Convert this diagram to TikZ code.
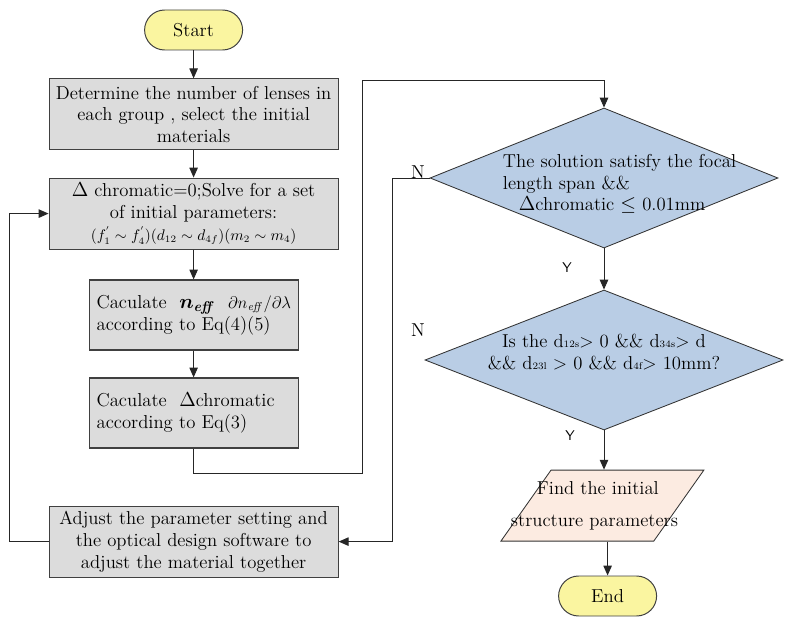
\documentclass[tikz,border=0pt]{standalone}
\usepackage{amsmath}
\usepackage{tikz}
\usetikzlibrary{arrows.meta,calc,positioning,shapes.geometric}
\definecolor{termfill}{HTML}{FAF5A0}
\definecolor{procfill}{HTML}{DCDCDC}
\definecolor{decfill}{HTML}{B9CDE5}
\definecolor{iofill}{HTML}{FCEBE1}
\definecolor{edgegray}{HTML}{404040}
\tikzset{%
	startstop/.style= {draw=edgegray, fill=termfill, rectangle, rounded corners=0.5cm, minimum width=2.45cm, minimum height=1cm, text centered, line width=0.7pt},
	process/.style  = {draw=edgegray, fill=procfill, rectangle, minimum width=7.225cm, minimum height=1.775cm, align=center, inner sep=0pt, line width=0.8pt},
	calcbox/.style  = {process, minimum width=5.225cm, minimum height=1.75cm, text width=4.85cm, align=left},
	decision/.style = {draw=black!80, fill=decfill, diamond, inner sep=0pt, line width=0.6pt},
	inout/.style    = {draw=black!80, fill=iofill, trapezium, trapezium left angle=64, trapezium right angle=116, trapezium stretches=true, inner sep=2pt, minimum width=5.075cm, minimum height=1.775cm, line width=0.6pt},
	arrow/.style    = {line width=0.7pt, draw=black!85, -{Triangle[length=7pt,width=6pt]}},
	yn/.style       = {inner sep=0pt},
}
\begin{document}
\begin{tikzpicture}[font=\fontsize{13.3}{15.5}\selectfont]
	\useasboundingbox (0,0) rectangle (19.8,-15.65);
	% left column
	\node[startstop] (start) at (4.84,-0.75) {Start};
	\node[process] (lenses) at (4.84,-2.86) {Determine the number of lenses in\\ each group , select the initial\\ materials};
	\node[process] (solve) at (4.84,-5.34) {$\Delta$ chromatic=0;Solve for a set\\ of initial parameters:\\ {\fontsize{10.5}{12}\selectfont $(f_1^{'}\sim f_4^{'})(d_{12}\sim d_{4f})(m_2\sim m_4)$}};
	\node[calcbox] (neff) at (4.84,-7.875) {\mbox{Caculate \ {\Large\boldmath$n_{\mathit{eff}}$} \ {\fontsize{11.5}{14}\selectfont$\partial n_{\mathit{eff}}/\partial\lambda$}}\\ according to Eq(4)(5)};
	\node[calcbox] (chrom) at (4.84,-10.325) {Caculate \ $\Delta$chromatic\\ according to Eq(3)};
	\node[process] (adjust) at (4.84,-13.54) {Adjust the parameter setting and\\ the optical design software to\\ adjust the material together};
	% right column
	\node[decision, minimum width=8.7cm, minimum height=3.5cm] (focal) at (15.1,-4.45) {};
	\node[align=left, anchor=west] (focaltxt) at (12.45,-4.6) {The solution satisfy the focal\\ length span \&\&\\ \hspace*{0.4cm}$\Delta$chromatic $\leq$ 0.01mm};
	\node[decision, minimum width=8.95cm, minimum height=3.5cm] (gaps) at (15.1,-9.0) {};
	\node[align=center] (gapstxt) at (15.1,-8.8) {Is the d{\scriptsize 12s}> 0 \&\& d{\scriptsize 34s}> d\\ \&\& d{\scriptsize 23l} > 0 \&\& d{\scriptsize 4f}> 10mm?};
	\node[inout] (find) at (15.06,-12.64) {};
	\node[align=left, anchor=west] (findtxt) at (12.65,-12.64) {\hspace*{0.65cm}Find the initial\\[7pt] structure parameters};
	\node[startstop] (end) at (15.19,-14.9) {End};
	% branch labels
	\node[yn] (n1) at (10.45,-4.3) {N};
	\node[yn] (n2) at (10.45,-8.25) {N};
	\node[yn, font=\sffamily] (y1) at (14.175,-6.7) {Y};
	\node[yn, font=\sffamily] (y2) at (14.25,-10.9) {Y};
	\coordinate (bend) at (9.05,-2.0);
	% connectors
	\draw[arrow] (start) -- (lenses);
	\draw[arrow] (lenses) -- (solve);
	\draw[arrow] (solve) -- (neff);
	\draw[arrow] (neff) -- (chrom);
	\draw[arrow] (chrom.south) -- ++(0,-0.625) -| (bend) -| (focal.north);
	\draw[arrow] (focal.west) -- ++(-0.925,0) |- (adjust.east);
	\draw[arrow] (adjust.west) -- ++(-0.975,0) |- (solve.west);
	\draw[arrow] (focal.south) -- (gaps.north);
	\draw[arrow] (gaps.south) -- (gaps.south |- find.north);
	\draw[arrow] (end.north |- find.south) -- (end.north);
\end{tikzpicture}
\end{document}
